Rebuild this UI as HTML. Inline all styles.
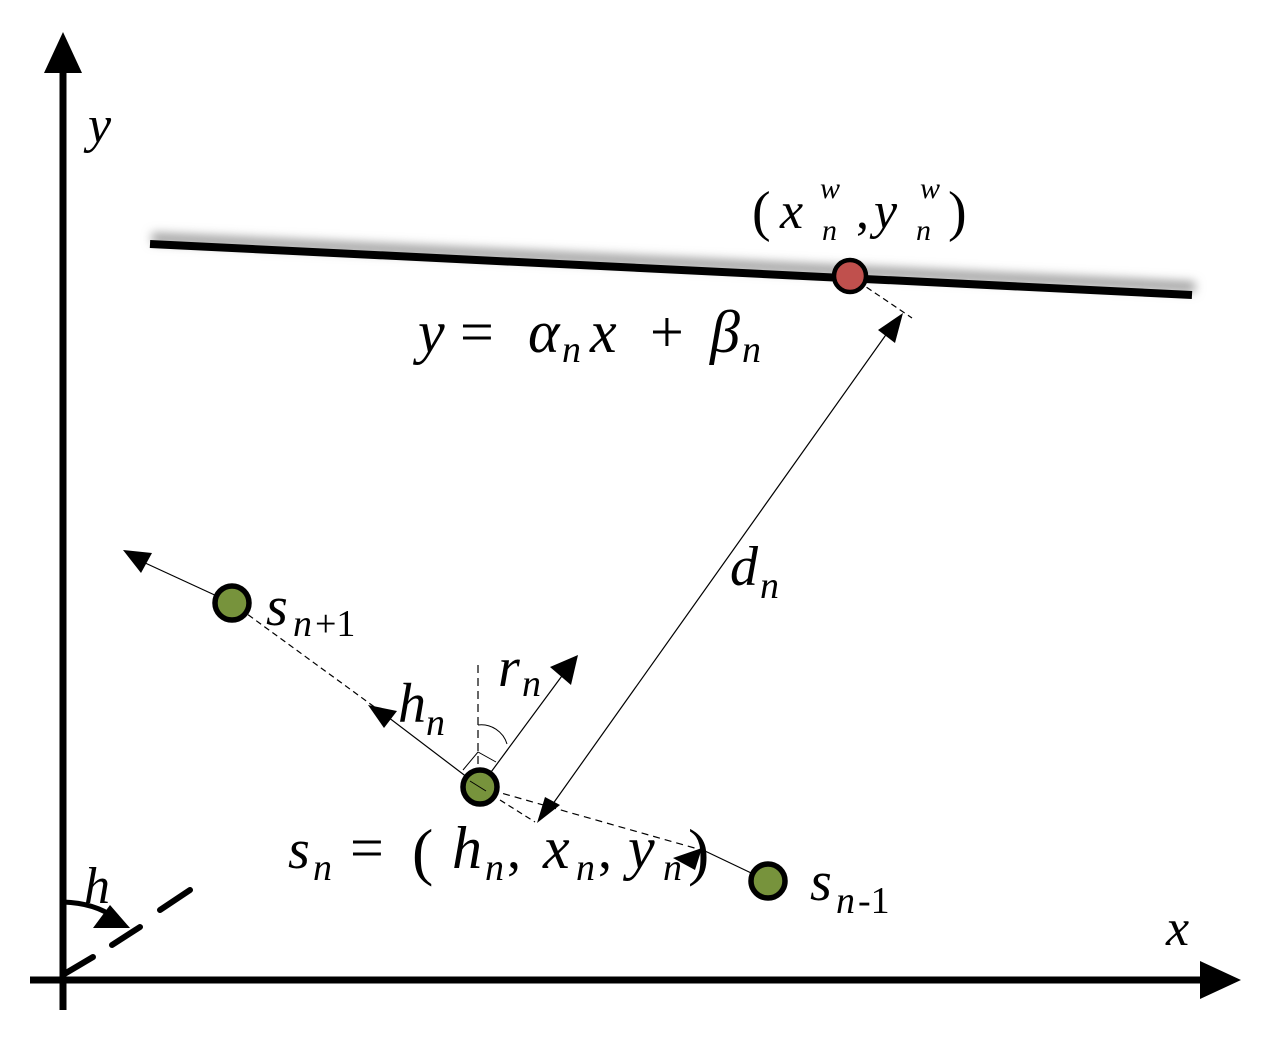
<!DOCTYPE html>
<html><head><meta charset="utf-8"><style>
html,body{margin:0;padding:0;background:#fff;}
svg{display:block;}
svg text{font-family:"Liberation Serif","Times New Roman","DejaVu Serif",serif !important;font-style:italic;fill:#000;}
svg text.n{font-style:normal;}
</style></head><body>
<svg width="1273" height="1043" viewBox="0 0 1273 1043" xmlns="http://www.w3.org/2000/svg" font-family="Liberation Serif, serif">
<defs>
<filter id="sh" x="-5%" y="-200%" width="110%" height="500%"><feGaussianBlur stdDeviation="5"/></filter>
</defs>
<line x1="63" y1="1010" x2="63" y2="60" stroke="#000" stroke-width="7"/>
<polygon points="63,32 44,73 82,73" fill="#000"/>
<line x1="30" y1="980" x2="1210" y2="980" stroke="#000" stroke-width="7"/>
<polygon points="1241,980 1200,961 1200,999" fill="#000"/>
<line x1="152" y1="238" x2="1195" y2="287" stroke="#999" stroke-width="10" filter="url(#sh)"/>
<line x1="150" y1="244" x2="1192" y2="295" stroke="#000" stroke-width="8"/>
<line x1="850" y1="276" x2="912" y2="318" stroke="#000" stroke-width="1.2" stroke-dasharray="6,4"/>
<line x1="895" y1="322" x2="545" y2="815" stroke="#000" stroke-width="1.2"/>
<polygon points="903,313 878,330 895,343" fill="#000"/>
<polygon points="537,823 560,805 545,797" fill="#000"/>
<line x1="130" y1="556" x2="232" y2="603" stroke="#000" stroke-width="1.2"/>
<polygon points="123,550 152,553 141,573" fill="#000"/>
<line x1="232" y1="603" x2="380" y2="711" stroke="#000" stroke-width="1.2" stroke-dasharray="6,4"/>
<line x1="380" y1="711" x2="480" y2="787" stroke="#000" stroke-width="1.2"/>
<polygon points="368,705 397,711 384,728" fill="#000"/>
<line x1="480" y1="787" x2="570" y2="665" stroke="#000" stroke-width="1.2"/>
<polygon points="578,655 550,667 571,685" fill="#000"/>
<line x1="478" y1="665" x2="478" y2="787" stroke="#000" stroke-width="1.2" stroke-dasharray="8,5"/>
<path d="M478,725 A27,27 0 0 1 507,744" fill="none" stroke="#000" stroke-width="1"/>
<path d="M463,770 L478,752 L496,762" fill="none" stroke="#000" stroke-width="1"/>
<line x1="480" y1="787" x2="705" y2="851" stroke="#000" stroke-width="1.2" stroke-dasharray="7,5"/>
<line x1="500" y1="800" x2="535" y2="822" stroke="#000" stroke-width="1.2" stroke-dasharray="6,4"/>
<line x1="705" y1="851" x2="768" y2="881" stroke="#000" stroke-width="1.2"/>
<polygon points="673,858 702,848 695,870" fill="#000"/>
<circle cx="850" cy="276" r="16" fill="#c0504d" stroke="#000" stroke-width="4.5"/>
<circle cx="232" cy="603" r="17" fill="#77933c" stroke="#000" stroke-width="5.5"/>
<circle cx="480" cy="787" r="17" fill="#77933c" stroke="#000" stroke-width="5.5"/>
<circle cx="768" cy="881" r="17" fill="#77933c" stroke="#000" stroke-width="5.5"/>
<line x1="470" y1="781" x2="486" y2="791" stroke="#000" stroke-width="1"/>
<g stroke="#000" stroke-width="6" stroke-linecap="round">
<line x1="66" y1="973" x2="93" y2="957"/>
<line x1="112" y1="945" x2="140" y2="927"/>
<line x1="160" y1="910" x2="190" y2="890"/>
</g>
<path d="M63,902 Q95,903 115,918" fill="none" stroke="#000" stroke-width="5"/>
<polygon points="130,928 110,905 93,928" fill="#000"/>
<text x="88" y="142" font-size="52">y</text>
<text x="1166" y="945" font-size="52">x</text>
<text x="84" y="903" font-size="52">h</text>
<text x="752" y="230" font-size="56" class="n">(</text>
<text x="780" y="228" font-size="52">x</text>
<text x="820" y="198" font-size="30">w</text>
<text x="822" y="240" font-size="30">n</text>
<text x="856" y="228" font-size="52" class="n">,</text>
<text x="874" y="228" font-size="52">y</text>
<text x="920" y="198" font-size="30">w</text>
<text x="916" y="240" font-size="30">n</text>
<text x="948" y="230" font-size="56" class="n">)</text>
<text x="418" y="352" font-size="60">y</text>
<text x="460" y="352" font-size="60" class="n">=</text>
<text x="528" y="352" font-size="60">α</text>
<text x="562" y="362" font-size="38">n</text>
<text x="590" y="352" font-size="60">x</text>
<text x="650" y="352" font-size="60" class="n">+</text>
<text x="710" y="352" font-size="60">β</text>
<text x="742" y="362" font-size="38">n</text>
<text x="730" y="585" font-size="56">d</text>
<text x="760" y="598" font-size="38">n</text>
<text x="266" y="625" font-size="56">s</text>
<text x="293" y="636" font-size="38">n</text>
<text x="315" y="636" font-size="38" class="n">+1</text>
<text x="398" y="722" font-size="56">h</text>
<text x="426" y="735" font-size="38">n</text>
<text x="498" y="686" font-size="56">r</text>
<text x="522" y="696" font-size="38">n</text>
<text x="288" y="868" font-size="56">s</text>
<text x="313" y="880" font-size="38">n</text>
<text x="350" y="868" font-size="60" class="n">=</text>
<text x="412" y="873" font-size="64" class="n">(</text>
<text x="452" y="868" font-size="60">h</text>
<text x="485" y="880" font-size="38">n</text>
<text x="507" y="868" font-size="56" class="n">,</text>
<text x="543" y="868" font-size="60">x</text>
<text x="576" y="880" font-size="38">n</text>
<text x="598" y="868" font-size="56" class="n">,</text>
<text x="628" y="868" font-size="60">y</text>
<text x="663" y="880" font-size="38">n</text>
<text x="688" y="873" font-size="64" class="n">)</text>
<text x="810" y="900" font-size="56">s</text>
<text x="836" y="913" font-size="38">n</text>
<text x="858" y="913" font-size="38" class="n">-1</text>
</svg>
</body></html>
